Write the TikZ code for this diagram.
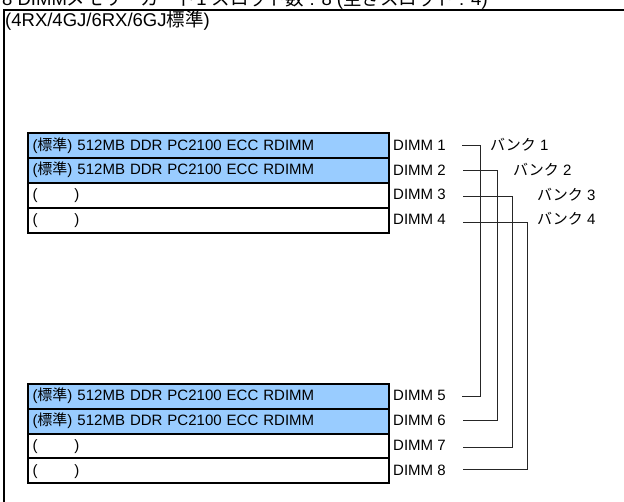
\documentclass[tikz,border=0pt]{standalone}
\usepackage{fontspec}
\setmainfont{Liberation Sans}
\newfontfamily\jfont{Noto Sans CJK JP}
\usepackage{tikz}
\def\ja#1{{\jfont #1}}
\definecolor{memblue}{RGB}{153,204,255}
\tikzset{
  slot/.style={draw, line width=2pt, outer sep=0pt, inner xsep=4.5pt, anchor=north west,
    minimum width=361pt, minimum height=24.8pt, text width=352pt, align=left,
    text height=11.5pt, text depth=3pt, font=\fontsize{15}{18}\selectfont},
  stdslot/.style={slot, fill=memblue},
  lbl/.style={anchor=base west, inner sep=0pt, font=\fontsize{15}{18}\selectfont},
  big/.style={anchor=base west, inner sep=0pt, font=\fontsize{18.5}{22}\selectfont},
  wire/.style={line width=0.8pt, black!85},
}

\begin{document}
\begin{tikzpicture}[x=1pt, y=-1pt]
		%%%%% START %%%%%
		
		\useasboundingbox (0, 0) rectangle (624, 502);
		\clip (0, 0) rectangle (624, 502);
		
		\node[big] (title) at (2, 6) {8 DIMM\ja{メモリーカード}1 \ja{スロット数} : 8 (\ja{空きスロット} : 4)};
		\draw[line width=2pt] (4, 10) rectangle (660, 530);
		\node[big] (head) at (5, 27) {(4RX/4GJ/6RX/6GJ\ja{標準})};
		
		\node[stdslot] (s1) at (28, 133.5) {(\ja{標準}) 512MB DDR PC2100 ECC RDIMM};
		\node[stdslot] (s2) at (28, 158.3) {(\ja{標準}) 512MB DDR PC2100 ECC RDIMM};
		\node[slot] (s3) at (28, 183.1) {(\hspace{37pt})};
		\node[slot] (s4) at (28, 207.9) {(\hspace{37pt})};
		
		\node[stdslot] (s5) at (28, 384) {(\ja{標準}) 512MB DDR PC2100 ECC RDIMM};
		\node[stdslot] (s6) at (28, 408.8) {(\ja{標準}) 512MB DDR PC2100 ECC RDIMM};
		\node[slot] (s7) at (28, 433.6) {(\hspace{37pt})};
		\node[slot] (s8) at (28, 458.4) {(\hspace{37pt})};
		
		\node[lbl] (d1) at (393, 150.3) {DIMM 1};
		\node[lbl] (d2) at (393, 175.1) {DIMM 2};
		\node[lbl] (d3) at (393, 199.9) {DIMM 3};
		\node[lbl] (d4) at (393, 224.7) {DIMM 4};
		\node[lbl] (d5) at (393, 400.8) {DIMM 5};
		\node[lbl] (d6) at (393, 425.6) {DIMM 6};
		\node[lbl] (d7) at (393, 450.4) {DIMM 7};
		\node[lbl] (d8) at (393, 475.2) {DIMM 8};
		
		\node[lbl] (b1) at (490, 150.3) {\ja{バンク} 1};
		\node[lbl] (b2) at (513, 175.6) {\ja{バンク} 2};
		\node[lbl] (b3) at (537, 200.3) {\ja{バンク} 3};
		\node[lbl] (b4) at (537, 224.2) {\ja{バンク} 4};
		
		\coordinate (w1) at (462, 145);
		\coordinate (w2) at (463, 170);
		\coordinate (w3) at (463, 196);
		\coordinate (w4) at (463, 222.5);
		\coordinate (w5) at (462, 396);
		\coordinate (w6) at (463, 420);
		\coordinate (w7) at (463, 447);
		\coordinate (w8) at (463, 469);
		
		\draw[wire] (w1) -- (480, 145) |- (w5);
		\draw[wire] (w2) -- (497, 170) |- (w6);
		\draw[wire] (w3) -- (512, 196) |- (w7);
		\draw[wire] (w4) -- (527, 222.5) |- (w8);
		
		%%%%% END %%%%%
\end{tikzpicture}
\end{document}
